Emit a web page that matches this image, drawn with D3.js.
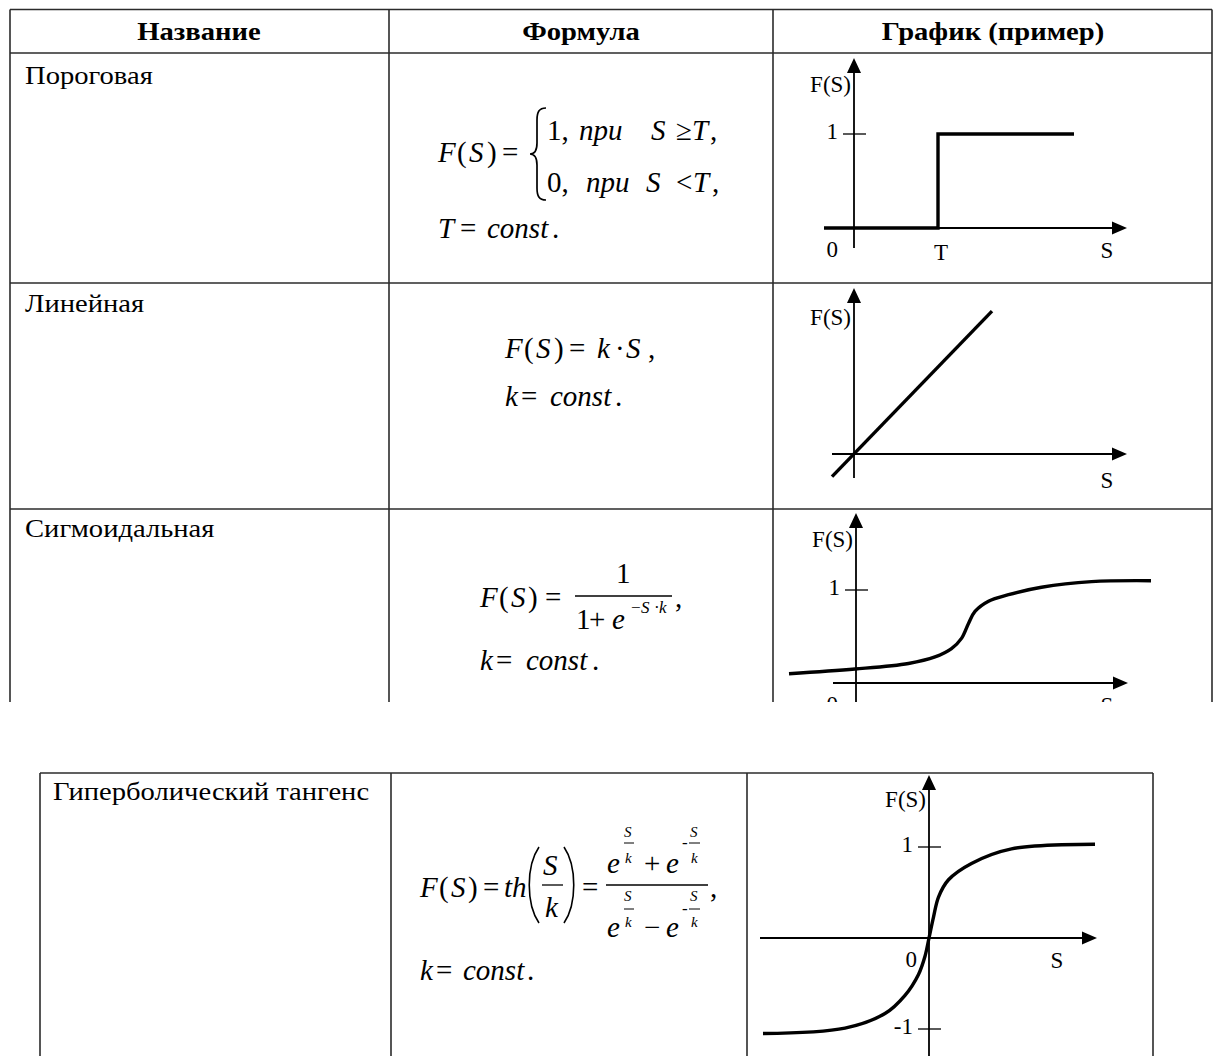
<!DOCTYPE html>
<html>
<head>
<meta charset="utf-8">
<script src="https://cdn.jsdelivr.net/npm/d3@7"></script>
<style>
body { margin: 0; background: #fff; }
svg text { font-family: "Liberation Serif", "DejaVu Serif", serif; fill: #000; }
</style>
</head>
<body>
<svg id="canvas" width="1216" height="1056"></svg>
<script>
// table texts
var headers = ["Название", "Формула", "График (пример)"];
var names = ["Пороговая", "Линейная", "Сигмоидальная", "Гиперболический тангенс"];

// example curves: S values and F(S) values
var thresholdS = [-0.6, 1.68, 4.4];
var thresholdF = [0, 1, 1];
var linearS = [-0.44, 2.76];
var linearF = [-0.24, 1.52];
var sigmoidS = [-1.34, -0.02, 1.05, 1.58, 1.91, 2.11, 2.25, 2.38, 2.65, 3.05, 3.71, 4.71, 5.9];
var sigmoidF = [0.10, 0.15, 0.21, 0.28, 0.37, 0.48, 0.64, 0.77, 0.88, 0.95, 1.03, 1.09, 1.10];
var tanhS = [-3.32, -1.68, -0.88, -0.48, -0.21, -0.08, 0, 0.09, 0.19, 0.39, 0.85, 1.65, 3.32];
var tanhF = [-1.05, -0.99, -0.83, -0.63, -0.40, -0.2, 0, 0.23, 0.45, 0.64, 0.82, 0.98, 1.03];

// tick values on the F(S) axis
var thresholdTicks = [1];
var linearTicks = [];
var sigmoidTicks = [1];
var tanhTicks = [1, -1];

var svg = d3.select("#canvas");
svg.append("rect").attr("width", 1216).attr("height", 1056).attr("fill", "#fff");

svg.append("defs").append("clipPath").attr("id", "cut")
  .append("rect").attr("x", 0).attr("y", 0).attr("width", 1216).attr("height", 702);

var upper = svg.append("g").attr("clip-path", "url(#cut)");
var lower = svg.append("g");

var border = "#2b2b2b";

//upper table grid
[[10, 9.5, 1212, 9.5], [10, 53, 1212, 53], [10, 283, 1212, 283], [10, 509, 1212, 509],
 [10, 9.5, 10, 702], [389, 9.5, 389, 702], [773, 9.5, 773, 702], [1212, 9.5, 1212, 702]]
  .forEach(function(l){
    upper.append("line").attr("x1", l[0]).attr("y1", l[1]).attr("x2", l[2]).attr("y2", l[3])
      .attr("stroke", border).attr("stroke-width", 1.6);
  });

//lower table grid
[[40, 773, 1153, 773], [40, 773, 40, 1056], [391, 773, 391, 1056], [747, 773, 747, 1056], [1153, 773, 1153, 1056]]
  .forEach(function(l){
    lower.append("line").attr("x1", l[0]).attr("y1", l[1]).attr("x2", l[2]).attr("y2", l[3])
      .attr("stroke", border).attr("stroke-width", 1.6);
  });

//header (the scan is a little stretched sideways)
var headerX = [199, 581, 993];
upper.selectAll("text.head")
  .data(headers)
  .enter()
  .append("text")
    .attr("class", "head")
    .attr("transform", function(d, i){ return "translate(" + headerX[i] + ",40) scale(1.1,1)"; })
    .attr("text-anchor", "middle")
    .attr("font-size", 26)
    .attr("font-weight", "bold")
    .text(function(d){ return d; });

//row names
var nameX = [25, 25, 25, 53];
var nameY = [84, 312, 537, 800];
names.forEach(function(n, i){
  (i < 3 ? upper : lower).append("text")
    .attr("transform", "translate(" + nameX[i] + "," + nameY[i] + ") scale(1.1,1)")
    .attr("font-size", 26)
    .text(n);
});

//formulas: [text, x, baseline, size, italic]
function put(g, pieces) {
  pieces.forEach(function(p){
    g.append("text")
      .attr("x", p[1]).attr("y", p[2])
      .attr("font-size", p[3])
      .attr("font-style", p[4] ? "italic" : "normal")
      .text(p[0]);
  });
}
function rule(g, x1, x2, y, w) {
  g.append("line").attr("x1", x1).attr("x2", x2).attr("y1", y).attr("y2", y)
    .attr("stroke", "#000").attr("stroke-width", w);
}

put(upper, [
  ["F", 438, 162, 29, 1], ["(", 457, 162, 29, 0], ["S", 469, 162, 29, 1], [")", 487, 162, 29, 0], ["=", 502, 162, 29, 0],
  ["1,", 547, 140, 29, 0], ["при", 579, 140, 29, 1], ["S", 651, 140, 29, 1], ["≥", 676, 140, 29, 0], ["T", 692, 140, 29, 1], [",", 710, 140, 29, 0],
  ["0,", 547, 192, 29, 0], ["при", 586, 192, 29, 1], ["S", 646, 192, 29, 1], ["<", 676, 192, 29, 0], ["T", 693, 192, 29, 1], [",", 712, 192, 29, 0],
  ["T", 438, 238, 29, 1], ["=", 460, 238, 29, 0], ["const", 487, 238, 29, 1], [".", 552, 238, 29, 0]
]);
upper.append("path")
  .attr("d", "M546,108 C539,108 537,112 537,120 L537,143 C537,150 535,154 530,154 C535,154 537,158 537,165 L537,188 C537,196 539,200 546,200")
  .attr("fill", "none").attr("stroke", "#000").attr("stroke-width", 1.7);

put(upper, [
  ["F", 505, 358, 29, 1], ["(", 524, 358, 29, 0], ["S", 536, 358, 29, 1], [")", 554, 358, 29, 0], ["=", 569, 358, 29, 0],
  ["k", 597, 358, 29, 1], ["·", 615, 358, 29, 0], ["S", 626, 358, 29, 1], [",", 648, 358, 29, 0],
  ["k", 505, 406, 29, 1], ["=", 521, 406, 29, 0], ["const", 550, 406, 29, 1], [".", 615, 406, 29, 0]
]);

put(upper, [
  ["F", 480, 607, 29, 1], ["(", 499, 607, 29, 0], ["S", 511, 607, 29, 1], [")", 528, 607, 29, 0], ["=", 545, 607, 29, 0],
  ["1", 616, 583, 29, 0],
  ["1", 576, 629, 29, 0], ["+", 589, 629, 29, 0], ["e", 612, 629, 29, 1],
  ["−", 631, 613, 17, 0], ["S", 641, 613, 17, 1], ["·", 654, 613, 17, 0], ["k", 659, 613, 17, 1],
  [",", 675, 607, 29, 0],
  ["k", 480, 670, 29, 1], ["=", 496, 670, 29, 0], ["const", 526, 670, 29, 1], [".", 592, 670, 29, 0]
]);
rule(upper, 575, 672, 596, 1.4);

put(lower, [
  ["F", 420, 897, 29, 1], ["(", 439, 897, 29, 0], ["S", 451, 897, 29, 1], [")", 468, 897, 29, 0], ["=", 483, 897, 29, 0],
  ["th", 504, 897, 29, 1],
  ["S", 543, 875, 29, 1], ["k", 545, 917, 29, 1],
  ["=", 582, 897, 29, 0],
  ["e", 607, 873, 29, 1], ["S", 624, 837, 15, 1], ["k", 625, 863, 15, 1],
  ["+", 644, 873, 29, 0], ["e", 666, 873, 29, 1],
  ["-", 682, 848, 17, 0], ["S", 690, 837, 15, 1], ["k", 691, 863, 15, 1],
  ["e", 607, 937, 29, 1], ["S", 624, 901, 15, 1], ["k", 625, 927, 15, 1],
  ["−", 644, 937, 29, 0], ["e", 666, 937, 29, 1],
  ["-", 682, 914, 17, 0], ["S", 690, 901, 15, 1], ["k", 691, 927, 15, 1],
  [",", 710, 897, 29, 0],
  ["k", 420, 980, 29, 1], ["=", 436, 980, 29, 0], ["const", 463, 980, 29, 1], [".", 527, 980, 29, 0]
]);
rule(lower, 542, 563, 885, 1.3);
rule(lower, 606, 708, 885, 1.4);
rule(lower, 624, 634, 843, 1);
rule(lower, 689, 700, 843, 1);
rule(lower, 624, 634, 909, 1);
rule(lower, 689, 700, 909, 1);
lower.append("path").attr("d", "M539,847 C526,866 526,904 539,923")
  .attr("fill", "none").attr("stroke", "#000").attr("stroke-width", 1.6);
lower.append("path").attr("d", "M564,847 C577,866 577,904 564,923")
  .attr("fill", "none").attr("stroke", "#000").attr("stroke-width", 1.6);

//small example graphs
var smooth = d3.curveCatmullRom.alpha(0.5);
var graphs = [
  {g: upper, ox: 854, oy: 228, ux: 50, uy: 94, xl: 824, xr: 1127, yt: 58, yb: 248,
   s: thresholdS, f: thresholdF, curve: d3.curveStepAfter, ticks: thresholdTicks,
   fsY: 92, sX: 1107, sY: 258, zeroX: 838, zeroY: 257, tLabel: true},
  {g: upper, ox: 854, oy: 454, ux: 50, uy: 94, xl: 832, xr: 1127, yt: 288, yb: 478,
   s: linearS, f: linearF, curve: d3.curveLinear, ticks: linearTicks,
   fsY: 325, sX: 1107, sY: 488},
  {g: upper, ox: 856, oy: 683, ux: 50, uy: 93, xl: 833, xr: 1128, yt: 513, yb: 720,
   s: sigmoidS, f: sigmoidF, curve: smooth, ticks: sigmoidTicks,
   fsY: 547, sX: 1107, sY: 713, zeroX: 838, zeroY: 712},
  {g: lower, ox: 929, oy: 938, ux: 50, uy: 91, xl: 760, xr: 1097, yt: 775, yb: 1060,
   s: tanhS, f: tanhF, curve: smooth, ticks: tanhTicks,
   fsY: 807, sX: 1057, sY: 968, zeroX: 917, zeroY: 967}
];

graphs.forEach(function(c){
  var x = d3.scaleLinear().domain([0, 1]).range([c.ox, c.ox + c.ux]);
  var y = d3.scaleLinear().domain([0, 1]).range([c.oy, c.oy - c.uy]);
  var g = c.g.append("g");

  //axes with arrow heads
  g.append("line").attr("x1", c.xl).attr("x2", c.xr - 10).attr("y1", c.oy).attr("y2", c.oy)
    .attr("stroke", "#000").attr("stroke-width", 1.8);
  g.append("line").attr("x1", c.ox).attr("x2", c.ox).attr("y1", c.yb).attr("y2", c.yt + 10)
    .attr("stroke", "#000").attr("stroke-width", 1.8);
  g.append("path")
    .attr("d", "M" + c.xr + "," + c.oy + "l-15,-6.5l0,13z").attr("fill", "#000");
  g.append("path")
    .attr("d", "M" + c.ox + "," + c.yt + "l-7,15l14,0z").attr("fill", "#000");

  //ticks
  g.selectAll("line.tick")
    .data(c.ticks)
    .enter()
    .append("line")
      .attr("class", "tick")
      .attr("x1", c.ox - 11).attr("x2", c.ox + 12)
      .attr("y1", function(d){ return y(d); }).attr("y2", function(d){ return y(d); })
      .attr("stroke", "#000").attr("stroke-width", 1.3);
  g.selectAll("text.tick")
    .data(c.ticks)
    .enter()
    .append("text")
      .attr("class", "tick")
      .attr("x", c.ox - 16)
      .attr("y", function(d){ return y(d) + 5; })
      .attr("text-anchor", "end")
      .attr("font-size", 23)
      .text(function(d){ return String(d); });

  //axis names
  g.append("text").attr("x", c.ox - 3).attr("y", c.fsY).attr("text-anchor", "end")
    .attr("font-size", 23).text("F(S)");
  g.append("text").attr("x", c.sX).attr("y", c.sY).attr("text-anchor", "middle")
    .attr("font-size", 23).text("S");
  if (c.zeroX) {
    g.append("text").attr("x", c.zeroX).attr("y", c.zeroY).attr("text-anchor", "end")
      .attr("font-size", 23).text("0");
  }
  if (c.tLabel) {
    g.append("text").attr("x", x(c.s[1]) + 3).attr("y", 260).attr("text-anchor", "middle")
      .attr("font-size", 23).text("T");
  }

  //curve
  var pts = c.s.map(function(v, i){ return [v, c.f[i]]; });
  var line = d3.line()
    .x(function(d){ return x(d[0]); })
    .y(function(d){ return y(d[1]); })
    .curve(c.curve);
  g.append("path")
    .datum(pts)
    .attr("d", line)
    .attr("fill", "none")
    .attr("stroke", "#000")
    .attr("stroke-width", 3.4);
});
</script>
</body>
</html>
